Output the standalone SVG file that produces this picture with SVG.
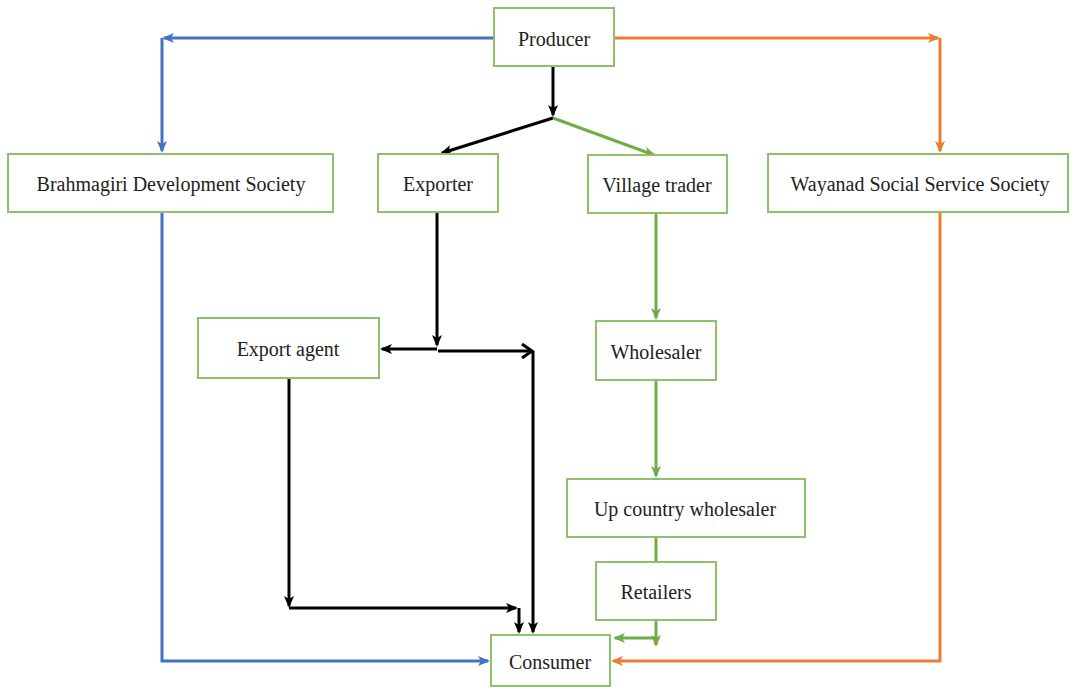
<svg xmlns="http://www.w3.org/2000/svg" width="1070" height="687" viewBox="0 0 1070 687">
<style>
.box{fill:#fff;stroke:#8cc26a;stroke-width:2}
.t{font-family:"Liberation Serif","Times New Roman",serif;font-size:20px;fill:#222;text-anchor:middle;dominant-baseline:central}
.k{fill:none;stroke:#000;stroke-width:3}
.g{fill:none;stroke:#70AD47;stroke-width:3}
.b{fill:none;stroke:#4472C4;stroke-width:3}
.o{fill:none;stroke:#ED7D31;stroke-width:3}
</style>
<defs>
<marker id="ak" markerWidth="12" markerHeight="12" refX="10" refY="6" orient="auto" markerUnits="userSpaceOnUse" viewBox="0 0 12 12"><path d="M0,1 L12,6 L0,11 L3,6 Z" fill="#000"/></marker>
<marker id="akc" markerWidth="16" markerHeight="16" refX="13" refY="8" orient="auto" markerUnits="userSpaceOnUse" viewBox="0 0 16 16"><path d="M3,1 L13,8 L3,15" fill="none" stroke="#000" stroke-width="3"/></marker>
<marker id="ag" markerWidth="12" markerHeight="12" refX="10" refY="6" orient="auto" markerUnits="userSpaceOnUse" viewBox="0 0 12 12"><path d="M0,1 L12,6 L0,11 L3,6 Z" fill="#70AD47"/></marker>
<marker id="ab" markerWidth="12" markerHeight="12" refX="10" refY="6" orient="auto" markerUnits="userSpaceOnUse" viewBox="0 0 12 12"><path d="M0,1 L12,6 L0,11 L3,6 Z" fill="#4472C4"/></marker>
<marker id="ao" markerWidth="12" markerHeight="12" refX="10" refY="6" orient="auto" markerUnits="userSpaceOnUse" viewBox="0 0 12 12"><path d="M0,1 L12,6 L0,11 L3,6 Z" fill="#ED7D31"/></marker>
</defs>
<rect width="1070" height="687" fill="#fff"/>
<g id="connectors">
<path class="b" d="M494,38 H164" marker-end="url(#ab)"/>
<path class="b" d="M162,38 V151" marker-end="url(#ab)"/>
<path class="b" d="M162,212 V661 H488" marker-end="url(#ab)"/>
<path class="o" d="M614,38 H938" marker-end="url(#ao)"/>
<path class="o" d="M940,38 V151" marker-end="url(#ao)"/>
<path class="o" d="M940,212 V661 H613" marker-end="url(#ao)"/>
<path class="k" d="M553,66 V115" marker-end="url(#ak)"/>
<path class="k" d="M553,118 L442,153" marker-end="url(#ak)"/>
<path class="g" d="M553,118 L654,155" marker-end="url(#ag)"/>
<path class="k" d="M437,212 V345" marker-end="url(#ak)"/>
<path class="k" d="M437,349 H382" marker-end="url(#ak)"/>
<path class="k" d="M438,351 H532" marker-end="url(#akc)"/>
<path class="k" d="M533,351 V632" marker-end="url(#ak)"/>
<path class="k" d="M289,378 V606" marker-end="url(#ak)"/>
<path class="k" d="M289,608 H516" marker-end="url(#ak)"/>
<path class="k" d="M519,608 V632" marker-end="url(#ak)"/>
<path class="g" d="M656,213 V318" marker-end="url(#ag)"/>
<path class="g" d="M656,380 V476" marker-end="url(#ag)"/>
<path class="g" d="M656,537 V562"/>
<path class="g" d="M656,620 V645" marker-end="url(#ag)"/>
<path class="g" d="M656,638 H615" marker-end="url(#ag)"/>
</g>
<g id="producer"><rect class="box" x="494" y="8" width="120" height="58"/><text class="t" x="554" y="39">Producer</text></g>
<g id="brahmagiri"><rect class="box" x="8" y="154" width="325" height="58"/><text class="t" x="171" y="184">Brahmagiri Development Society</text></g>
<g id="exporter"><rect class="box" x="378" y="154" width="120" height="58"/><text class="t" x="438" y="184">Exporter</text></g>
<g id="village-trader"><rect class="box" x="588" y="155" width="139" height="58"/><text class="t" x="657" y="185">Village trader</text></g>
<g id="wayanad"><rect class="box" x="768" y="154" width="300" height="58"/><text class="t" x="920" y="184">Wayanad Social Service Society</text></g>
<g id="export-agent"><rect class="box" x="198" y="318" width="181" height="60"/><text class="t" x="288" y="349">Export agent</text></g>
<g id="wholesaler"><rect class="box" x="596" y="321" width="120" height="59"/><text class="t" x="656" y="352">Wholesaler</text></g>
<g id="up-country-wholesaler"><rect class="box" x="567" y="479" width="238" height="58"/><text class="t" x="685" y="509">Up country wholesaler</text></g>
<g id="retailers"><rect class="box" x="596" y="562" width="120" height="58"/><text class="t" x="656" y="592">Retailers</text></g>
<g id="consumer"><rect class="box" x="491" y="635" width="119" height="51"/><text class="t" x="550" y="662">Consumer</text></g>
</svg>
